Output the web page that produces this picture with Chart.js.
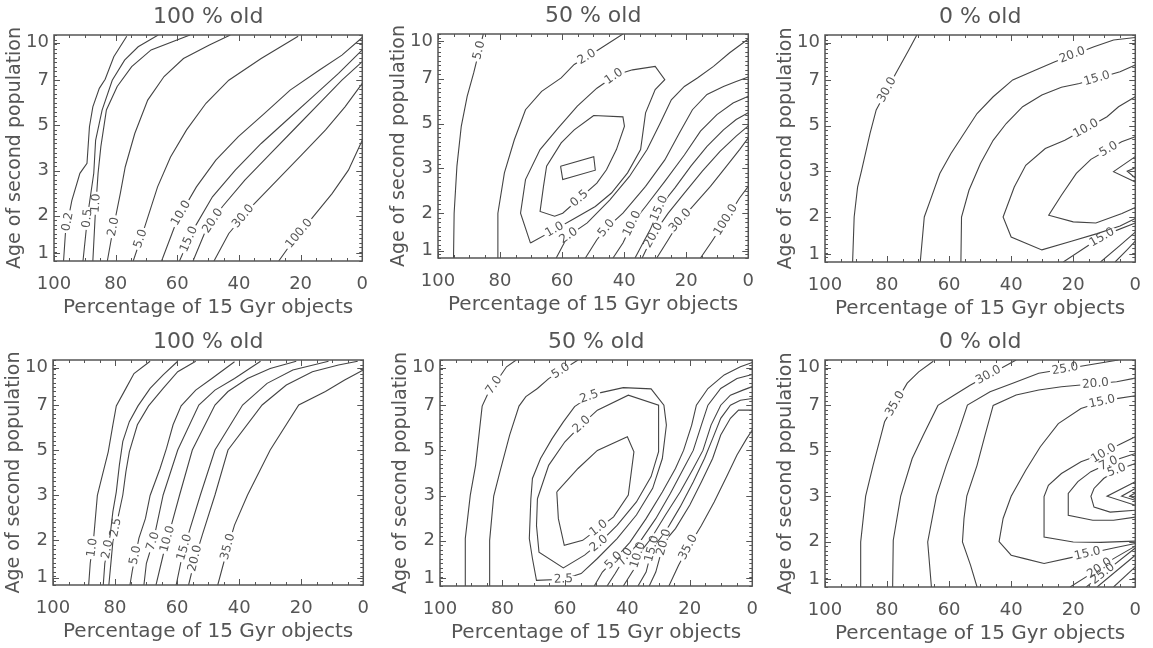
<!DOCTYPE html>
<html>
<head>
<meta charset="utf-8">
<script src="https://cdn.jsdelivr.net/npm/chart.js@4/dist/chart.umd.min.js"></script>
<style>
  html, body { margin: 0; padding: 0; background: #fff; }
  body { width: 1153px; height: 648px; position: relative; overflow: hidden; }
  canvas { position: absolute; }
</style>
</head>
<body>
<script>
// Axis ticks
const PCT_TICKS = [100, 80, 60, 40, 20, 0];
const AGE_TICKS = [1, 2, 3, 5, 7, 10];
// ages of the model grid rows (the y axis is linear in row number)
const AGE_GRID = [0.8, 2, 3, 5, 7, 10.6];

const TITLES = ['100 % old', '50 % old', '0 % old', '100 % old', '50 % old', '0 % old'];

// Each contour: [percentage of 15 Gyr objects, age of second population]
// Labels: [contour index, percentage, age]

// --- top left ---
const TL_LEVELS = ['0.2', '0.5', '1.0', '2.0', '5.0', '10.0', '15.0', '20.0', '30.0', '100.0'];
const TL_LINES = [
  [[96.9,0.8],[96.3,1.53],[94.2,2.34],[91.6,2.94],[89.3,3.32],[88.5,4.94],[87.4,5.82],[85.3,6.64],[83.4,7.07],[80.6,8.87],[76.4,10.5]],
  [[90.6,0.8],[89.0,2.05],[87.1,2.94],[86.5,4.34],[84.4,5.68],[81.1,7.0],[77.1,8.6],[72.7,9.66],[66.2,10.6]],
  [[87.4,0.8],[86.6,2.05],[85.7,2.94],[84.8,4.06],[83.0,5.68],[79.5,6.72],[74.8,8.08],[68.5,9.41],[55.9,10.6]],
  [[82.7,0.8],[81.1,1.53],[78.5,2.49],[76.9,3.16],[73.8,4.64],[69.6,6.12],[64.3,7.29],[58.0,8.73],[49.6,9.81],[42.8,10.6]],
  [[74.3,0.8],[70.6,1.7],[66.4,2.64],[62.2,3.6],[57.0,4.8],[50.7,5.98],[43.3,7.0],[32.8,8.73],[20.8,10.5]],
  [[65.1,0.8],[60.1,1.88],[53.8,2.64],[47.5,3.46],[40.2,4.5],[31.8,5.52],[23.4,6.56],[14.0,7.79],[6.6,9.0],[0,10.4]],
  [[59.3,0.8],[54.9,1.62],[48.6,2.42],[41.2,3.02],[32.8,4.2],[24.4,5.24],[16.1,6.26],[7.7,7.54],[0,9.41]],
  [[54.9,0.8],[51.2,1.53],[45.4,2.2],[38.1,2.79],[29.7,3.76],[21.3,4.94],[12.9,6.12],[6.6,7.0],[0,8.48]],
  [[48.1,0.8],[43.3,1.53],[36.0,2.2],[27.6,2.79],[19.2,3.76],[11.9,4.8],[5.6,5.82],[0,6.86]],
  [[27.1,0.8],[22.3,1.35],[16.1,1.96],[9.8,2.49],[4.5,3.02],[0,4.34]]
];
const TL_LABELS = [[0,95.3,1.84],[1,89.0,1.93],[2,84.8,2.27],[3,80.1,1.7],[4,71.9,1.39],[5,58.6,2.05],[6,56.5,1.39],[7,50.2,1.96],[8,39.7,2.05],[9,21.8,1.62]];

// --- top middle ---
const TM_LEVELS = ['5.0', '2.0', '1.0', '0.5', '0.2', '2.0', '5.0', '10.0', '15.0', '20.0', '30.0', '100.0'];
const TM_LINES = [
  [[95.0,0.8],[94.8,2.0],[93.9,3.1],[92.5,4.88],[90.6,6.22],[88.5,7.47],[85.4,10.6]],
  [[80.7,0.8],[80.7,2.0],[78.6,2.9],[75.4,4.28],[71.8,5.62],[66.6,6.44],[60.3,7.07],[56.1,8.15],[49.8,9.09],[40.4,10.6]],
  [[70.2,1.2],[73.4,2.0],[71.8,2.75],[67.1,3.84],[61.3,4.8],[55.1,5.78],[48.8,6.58],[42.5,7.33],[37.3,7.72],[30.0,8.0],[26.9,6.96],[30.0,6.52],[33.1,5.48],[34.7,3.84],[38.9,2.9],[44.1,2.45],[49.3,2.15],[56.6,1.83],[62.4,1.56],[70.2,1.2]],
  [[49.8,5.36],[40.4,5.3],[39.9,4.88],[42.5,3.84],[45.7,2.97],[48.8,2.67],[59.8,2.0],[62.4,1.92],[67.1,2.04],[66.0,2.6],[65.0,3.1],[60.3,4.14],[56.1,4.72],[49.8,5.36]],
  [[60.5,3.1],[49.8,3.52],[49.3,2.96],[59.8,2.75],[60.5,3.1]],
  [[61.9,0.8],[58.2,1.38],[51.9,1.74],[44.6,2.3],[38.3,2.82],[32.6,3.84],[28.4,5.02],[24.8,6.06],[20.6,6.66],[16.4,7.07],[11.2,8.0],[6.0,9.09],[0,10.2]],
  [[52.5,0.8],[48.8,1.29],[45.7,1.6],[40.4,2.0],[33.1,2.6],[26.9,3.38],[22.2,4.58],[18.0,5.62],[13.3,6.3],[8.0,6.66],[3.9,6.88],[0,7.14]],
  [[43.6,0.8],[40.4,1.2],[37.3,1.74],[33.1,2.15],[26.9,2.71],[20.6,3.6],[15.4,4.66],[10.1,5.4],[4.9,5.92],[0,6.22]],
  [[36.5,0.8],[34.2,1.16],[31.6,1.56],[28.4,2.15],[23.7,2.56],[18.5,3.1],[13.3,3.98],[8.0,4.72],[3.9,5.18],[0,5.48]],
  [[34.2,0.8],[31.9,1.2],[29.5,1.56],[25.8,2.0],[20.6,2.45],[14.8,2.94],[9.1,3.76],[3.9,4.44],[0,4.9]],
  [[29.5,0.8],[25.8,1.29],[22.2,1.78],[17.4,2.19],[12.2,2.6],[7.0,3.1],[2.8,3.84],[0,4.36]],
  [[15.4,0.8],[11.7,1.25],[7.5,1.78],[2.8,2.34],[0,2.6]]
];
const TM_LABELS = [[0,87.5,9.34],[1,51.9,8.7],[2,43.6,7.3],[2,62.4,1.56],[3,55.1,2.38],[5,57.7,1.37],[6,45.7,1.6],[7,38.9,1.78],[8,28.9,2.11],[9,30.8,1.42],[10,22.2,1.83],[11,7.5,1.83]];

// --- top right ---
const TR_LEVELS = ['30.0', '20.0', '15.0', '10.0', '5.0', '2.0', '1.0', '15.0', '20.0', '25.0'];
const TR_LINES = [
  [[91.1,0.8],[90.6,1.99],[89.5,2.65],[88.2,3.04],[85.5,4.66],[83.5,5.7],[77.2,7.54],[73.0,9.41],[70.4,10.6]],
  [[69.3,0.8],[68.0,1.99],[65.7,2.43],[63.0,2.95],[59.4,3.78],[55.2,4.66],[51.0,5.54],[45.8,6.28],[39.5,7.04],[32.1,7.83],[25.9,8.48],[13.3,9.66],[7.0,10.2],[0,10.4]],
  [[56.2,0.8],[56.0,1.99],[53.6,2.58],[49.9,3.34],[45.8,4.36],[41.6,5.1],[36.3,5.84],[30.1,6.36],[23.8,6.7],[18.0,6.86],[4.9,7.68],[0,8.22]],
  [[0,6.28],[5.4,5.84],[9.1,5.4],[22.7,4.36],[29.0,4.0],[35.3,3.26],[39.0,2.65],[42.6,1.99],[40.0,1.46],[30.1,1.12],[20.6,1.35],[12.3,1.55],[4.9,1.75],[0,1.95]],
  [[0,4.52],[4.4,4.3],[14.3,3.52],[19.0,2.95],[23.8,2.47],[27.9,2.03],[20.0,1.86],[12.7,1.83],[4.3,2.07],[0,2.2]],
  [[0,3.64],[7.0,2.99],[0,2.76]],
  [[0,3.15],[2.6,3.0],[0,2.85]],
  [[23.2,0.8],[14.3,1.28],[8.1,1.57],[0,1.83]],
  [[11.2,0.8],[4.9,1.24],[0,1.59]],
  [[6.5,0.8],[2.8,1.11],[0,1.35]]
];
const TR_LABELS = [[0,80.8,6.64],[1,20.1,8.87],[2,12.3,7.1],[3,15.9,4.88],[4,8.6,3.97],[7,10.7,1.45]];

// --- bottom left ---
const BL_LEVELS = ['1.0', '2.0', '2.5', '5.0', '7.0', '10.0', '15.0', '20.0', '35.0'];
const BL_LINES = [
  [[88.5,0.8],[88.0,1.38],[86.9,2.04],[85.7,2.99],[83.8,4.04],[82.2,4.92],[80.7,6.12],[79.6,6.96],[76.5,8.33],[73.9,9.52],[68.7,10.5]],
  [[83.8,0.8],[83.3,1.38],[81.7,2.04],[80.7,2.63],[79.6,3.14],[78.6,4.34],[77.5,5.38],[75.4,6.26],[72.6,6.96],[68.7,8.33],[64.5,9.41],[59.8,10.5]],
  [[82.0,0.8],[81.2,1.51],[80.7,1.96],[77.5,3.0],[76.5,4.04],[75.4,4.92],[72.8,6.12],[69.2,6.96],[64.5,8.33],[59.8,9.66],[54.0,10.5]],
  [[75.2,0.8],[74.4,1.2],[72.3,2.04],[70.2,2.48],[68.7,2.99],[65.5,4.18],[63.4,5.08],[61.3,6.12],[58.7,6.96],[54.0,8.19],[48.8,9.12],[41.5,10.46]],
  [[70.7,0.8],[69.9,1.38],[67.6,2.0],[64.5,3.0],[59.8,5.0],[53.0,7.0],[47.8,8.19],[41.5,9.12],[33.1,10.5]],
  [[66.8,0.8],[64.5,1.6],[62.4,2.19],[59.2,3.0],[55.1,5.0],[47.8,7.0],[43.6,8.08],[37.3,9.12],[30.0,9.92],[21.6,10.5]],
  [[60.3,0.8],[58.2,1.64],[56.1,2.19],[52.5,3.0],[47.8,5.0],[38.9,7.0],[31.0,8.73],[22.7,9.8],[11.2,10.5]],
  [[56.3,0.8],[54.2,1.51],[51.9,2.11],[47.8,3.0],[43.6,5.0],[32.6,7.0],[24.8,8.6],[16.4,9.66],[8.0,10.2],[1.8,10.5]],
  [[46.9,0.8],[43.6,1.82],[41.5,2.33],[37.3,3.0],[30.0,5.0],[20.8,7.0],[12.2,8.08],[6.0,9.0],[0,9.8]]
];
const BL_LABELS = [[0,87.7,1.8],[1,82.8,1.76],[2,78.6,2.26],[3,73.7,1.6],[4,68.3,1.98],[5,63.9,2.04],[6,58.2,1.82],[7,54.2,1.51],[8,43.6,1.82]];

// --- bottom middle ---
const BM_LEVELS = ['7.0', '5.0', '1.0', '2.0', '2.5', '5.0', '7.0', '10.0', '15.0', '20.0', '35.0'];
const BM_LINES = [
  [[91.9,0.8],[91.9,2.05],[90.3,3.02],[88.6,4.34],[86.5,6.96],[84.9,7.8],[78.7,10.06],[75.6,10.6]],
  [[84.1,0.8],[84.1,2.01],[82.8,2.99],[80.8,4.06],[77.7,5.68],[74.7,6.96],[72.5,7.68],[68.8,8.33],[65.2,9.12],[55.8,10.6]],
  [[62.6,3.16],[62.1,2.49],[60.2,1.88],[54.3,2.01],[44.4,2.53],[39.7,3.02],[37.9,4.94],[40.0,5.6],[49.6,5.0],[55.8,4.2],[62.6,3.16]],
  [[68.8,2.93],[69.1,2.34],[68.3,1.7],[60.5,1.28],[53.7,1.62],[49.1,1.93],[43.3,2.34],[37.1,2.86],[32.4,3.84],[30.0,4.94],[30.0,7.0],[39.7,7.8],[49.6,6.78],[54.8,6.12],[60.0,5.38],[65.2,4.34],[68.8,2.93]],
  [[70.9,2.93],[71.4,2.05],[70.4,1.53],[69.1,0.95],[60.5,0.98],[54.8,1.13],[49.6,1.53],[43.3,2.05],[37.1,2.57],[31.9,3.32],[28.8,4.64],[27.5,6.12],[28.3,7.0],[32.4,8.3],[41.3,8.4],[48.5,8.0],[52.2,7.68],[56.9,6.94],[60.5,6.26],[64.1,5.52],[67.8,4.64],[70.4,3.76],[70.9,2.93]],
  [[50.6,0.8],[48.0,1.17],[44.4,1.48],[39.2,1.96],[34.0,2.49],[28.8,3.16],[24.6,4.2],[22.0,5.0],[19.4,6.12],[17.9,7.0],[14.2,8.33],[9.0,9.41],[3.8,10.06],[0,10.4]],
  [[46.5,0.8],[43.9,1.13],[40.7,1.57],[36.1,1.96],[30.9,2.49],[26.2,3.1],[22.0,4.2],[18.9,5.0],[16.3,6.12],[14.2,7.0],[10.1,8.33],[4.9,9.12],[0,9.45]],
  [[41.3,0.8],[38.1,1.22],[36.6,1.62],[32.4,2.05],[27.8,2.57],[23.1,3.16],[18.9,4.2],[15.8,5.0],[13.2,6.12],[10.1,7.0],[7.0,7.8],[2.8,8.22],[0,8.48]],
  [[36.6,0.8],[34.0,1.17],[32.1,1.79],[27.8,2.2],[23.1,2.75],[18.9,3.6],[15.3,4.64],[12.7,5.52],[10.1,6.42],[7.0,7.0],[3.8,7.4],[0,7.54]],
  [[33.0,0.8],[30.9,1.17],[28.3,1.96],[24.6,2.27],[20.0,2.79],[16.3,3.6],[12.7,4.64],[10.1,5.68],[7.0,6.42],[4.4,6.78],[0,6.78]],
  [[26.7,0.8],[23.6,1.35],[20.5,1.83],[16.3,2.34],[12.2,2.86],[8.0,3.9],[4.9,4.8],[1.8,5.52],[0,5.9]]
];
const BM_LABELS = [[0,82.8,8.62],[1,61.5,9.81],[2,49.1,2.27],[3,55.0,6.2],[3,49.1,1.93],[4,52.2,7.68],[4,60.5,0.98],[5,44.4,1.48],[6,40.7,1.57],[7,36.6,1.62],[8,32.1,1.79],[9,28.3,1.96],[10,20.5,1.83]];

// --- bottom right ---
const BR_LEVELS = ['35.0', '30.0', '25.0', '20.0', '15.0', '10.0', '7.0', '5.0', '2.0', '1.0', '0.5', '20.0', '25.0', '30.0', '35.0'];
const BR_LINES = [
  [[88.7,0.8],[88.5,1.99],[86.9,3.0],[84.5,4.36],[81.9,5.7],[80.8,6.28],[73.5,8.76],[69.8,9.66],[65.1,10.5]],
  [[78.2,0.8],[78.0,2.03],[75.6,3.0],[71.9,4.66],[68.3,5.7],[63.6,7.0],[58.3,7.83],[53.1,8.62],[38.4,10.6]],
  [[65.7,0.8],[66.9,1.99],[64.1,3.0],[60.9,4.36],[57.3,5.7],[54.1,7.03],[46.8,8.08],[39.5,8.76],[31.1,9.55],[5.4,10.6]],
  [[51.0,0.8],[53.1,1.38],[55.7,1.99],[55.2,2.51],[54.3,3.0],[51.0,4.36],[48.4,5.7],[45.8,7.0],[38.4,7.83],[31.1,8.22],[23.8,8.48],[6.0,8.87],[0,9.16]],
  [[0,7.76],[6.0,7.54],[10.7,7.29],[17.5,6.86],[24.8,6.2],[30.6,5.18],[35.3,4.14],[40.0,3.0],[42.6,2.51],[43.9,2.0],[40.0,1.64],[35.7,1.55],[29.4,1.42],[20.0,1.59],[13.3,1.72],[7.0,1.83],[0,1.95]],
  [[0,5.62],[5.4,5.26],[10.2,4.88],[17.5,4.52],[23.8,4.0],[28.0,3.48],[29.4,2.99],[29.4,2.1],[20.0,1.99],[11.2,1.98],[0,2.01]],
  [[0,4.88],[4.9,4.66],[8.6,4.44],[14.3,4.08],[18.5,3.64],[21.6,3.12],[21.6,2.58],[13.7,2.47],[7.0,2.47],[0,2.54]],
  [[0,4.44],[6.0,4.14],[10.2,3.78],[13.3,3.34],[14.3,3.0],[13.3,2.76],[8.1,2.65],[0,2.69]],
  [[0,3.64],[9.1,3.0],[0,2.8]],
  [[0,3.34],[4.4,3.0],[0,2.91]],
  [[0,3.14],[1.8,3.0],[0,2.95]],
  [[21.0,0.8],[13.3,1.2],[7.0,1.55],[0,1.88]],
  [[15.8,0.8],[9.1,1.24],[0,1.83]],
  [[12.3,0.8],[0,1.64]],
  [[7.0,0.8],[0,1.33]]
];
const BR_LABELS = [[0,78.4,7.29],[1,47.3,9.41],[2,22.7,10.0],[3,12.8,8.7],[4,10.7,7.29],[5,10.2,4.88],[6,8.6,4.44],[7,6.0,4.14],[4,15.4,1.69],[11,11.5,1.3],[12,10.5,1.15]];

const FONT = '"DejaVu Sans", sans-serif';
const TEXT = '#555';
const LINE = '#444';

// plot areas on the page: [left, top, width, height]
const AREAS = [[54,35,317,226],[438,34,319,224],[825,35,319,227],[53,360,319,225],[440,360,321,226],[825,360,319,227]];
const PANELS = [
  [TL_LEVELS, TL_LINES, TL_LABELS], [TM_LEVELS, TM_LINES, TM_LABELS], [TR_LEVELS, TR_LINES, TR_LABELS],
  [BL_LEVELS, BL_LINES, BL_LABELS], [BM_LEVELS, BM_LINES, BM_LABELS], [BR_LEVELS, BR_LINES, BR_LABELS]
];

const ageToRow = (age) => {
  let i = 0;
  while (i < AGE_GRID.length - 2 && age > AGE_GRID[i + 1]) i++;
  return i + (age - AGE_GRID[i]) / (AGE_GRID[i + 1] - AGE_GRID[i]);
};

// box with inward ticks on all four sides
const frame = {
  id: 'frame',
  afterDraw(chart) {
    const { ctx, chartArea: a, scales: { x, y } } = chart;
    ctx.save();
    ctx.strokeStyle = '#555';
    ctx.lineWidth = 1;
    ctx.beginPath();
    for (let v = 0; v <= 100; v += 5) {
      const px = Math.round(x.getPixelForValue(v)) + 0.5;
      const len = v % 20 === 0 ? 6 : 3;
      ctx.moveTo(px, a.bottom); ctx.lineTo(px, a.bottom - len);
      ctx.moveTo(px, a.top); ctx.lineTo(px, a.top + len);
    }
    for (let r = 0; r <= 5.001; r += 0.1) {
      const py = Math.round(y.getPixelForValue(r)) + 0.5;
      ctx.moveTo(a.left, py); ctx.lineTo(a.left + 3, py);
      ctx.moveTo(a.right, py); ctx.lineTo(a.right - 3, py);
    }
    AGE_TICKS.forEach(t => {
      const py = Math.round(y.getPixelForValue(ageToRow(t))) + 0.5;
      ctx.moveTo(a.left, py); ctx.lineTo(a.left + 6, py);
      ctx.moveTo(a.right, py); ctx.lineTo(a.right - 6, py);
    });
    ctx.stroke();
    ctx.lineWidth = 1.5;
    ctx.strokeRect(a.left, a.top, a.right - a.left, a.bottom - a.top);
    ctx.restore();
  }
};

// IDL-style inline contour labels: text sits on the line, which is broken under it
const contourLabels = {
  id: 'contourLabels',
  afterDatasetsDraw(chart, args, opts) {
    const { ctx, scales: { x, y } } = chart;
    ctx.save();
    ctx.font = `12px ${FONT}`;
    ctx.textAlign = 'center';
    ctx.textBaseline = 'middle';
    opts.labels.forEach(([li, pct, age]) => {
      const pts = chart.data.datasets[li].data.map(p => [x.getPixelForValue(p.x), y.getPixelForValue(p.y)]);
      const tx = x.getPixelForValue(pct), ty = y.getPixelForValue(ageToRow(age));
      let best = null;
      for (let i = 0; i < pts.length - 1; i++) {
        const [x1, y1] = pts[i], [x2, y2] = pts[i + 1];
        const dx = x2 - x1, dy = y2 - y1, len2 = dx * dx + dy * dy || 1;
        const t = Math.max(0, Math.min(1, ((tx - x1) * dx + (ty - y1) * dy) / len2));
        const qx = x1 + t * dx, qy = y1 + t * dy;
        const d = (qx - tx) ** 2 + (qy - ty) ** 2;
        if (!best || d < best.d) best = { d, qx, qy, ang: Math.atan2(dy, dx) };
      }
      let ang = best.ang;
      if (ang > Math.PI / 2) ang -= Math.PI;
      if (ang < -Math.PI / 2) ang += Math.PI;
      const text = opts.levels[li];
      const w = ctx.measureText(text).width;
      ctx.save();
      ctx.translate(best.qx, best.qy);
      ctx.rotate(ang);
      ctx.fillStyle = '#fff';
      ctx.fillRect(-w / 2 - 2, -3, w + 4, 6);
      ctx.fillStyle = TEXT;
      ctx.fillText(text, 0, 0);
      ctx.restore();
    });
    ctx.restore();
  }
};

PANELS.forEach(([levels, lines, labels], i) => {
  const [l, t, w, h] = AREAS[i];
  const canvas = document.createElement('canvas');
  canvas.width = w + 54 + 10;
  canvas.height = h + 35 + 60;
  canvas.style.left = `${l - 54}px`;
  canvas.style.top = `${t - 35}px`;
  document.body.appendChild(canvas);

  new Chart(canvas, {
    type: 'scatter',
    data: {
      datasets: lines.map(line => ({
        data: line.map(([pct, age]) => ({ x: pct, y: ageToRow(age) })),
        showLine: true,
        borderColor: LINE,
        borderWidth: 1.1,
        pointRadius: 0,
        tension: 0,
        fill: false
      }))
    },
    options: {
      responsive: false,
      animation: false,
      events: [],
      layout: { padding: { left: 0, right: 10, top: 0, bottom: 0 } },
      plugins: {
        legend: { display: false },
        tooltip: { enabled: false },
        title: {
          display: true, text: TITLES[i], color: TEXT, fullSize: false,
          font: { family: FONT, size: 22, weight: 'normal', lineHeight: 1 },
          padding: { top: 6, bottom: 7 }
        },
        contourLabels: { labels, levels }
      },
      scales: {
        x: {
          type: 'linear', min: 0, max: 100, reverse: true,
          grid: { display: false, drawTicks: false },
          border: { display: false },
          afterBuildTicks: s => { s.ticks = PCT_TICKS.map(v => ({ value: v })); },
          ticks: { autoSkip: false, maxRotation: 0, padding: 13, color: TEXT, font: { family: FONT, size: 18 } },
          title: {
            display: true, text: 'Percentage of 15 Gyr objects', color: TEXT,
            font: { family: FONT, size: 20, lineHeight: 1 }, padding: { top: 0, bottom: 3 }
          },
          afterFit: s => { s.height = 60; }
        },
        y: {
          type: 'linear', min: 0, max: 5,
          grid: { display: false, drawTicks: false },
          border: { display: false },
          afterBuildTicks: s => { s.ticks = AGE_TICKS.map(a => ({ value: ageToRow(a) })); },
          ticks: { autoSkip: false, padding: 5, color: TEXT, font: { family: FONT, size: 18 }, callback: (v, idx) => String(AGE_TICKS[idx]) },
          title: {
            display: true, text: 'Age of second population', color: TEXT,
            font: { family: FONT, size: 19, lineHeight: 1 }, padding: { top: 6, bottom: 0 }
          },
          afterFit: s => { s.width = 54; }
        }
      }
    },
    plugins: [contourLabels, frame]
  });
});
</script>
</body>
</html>
